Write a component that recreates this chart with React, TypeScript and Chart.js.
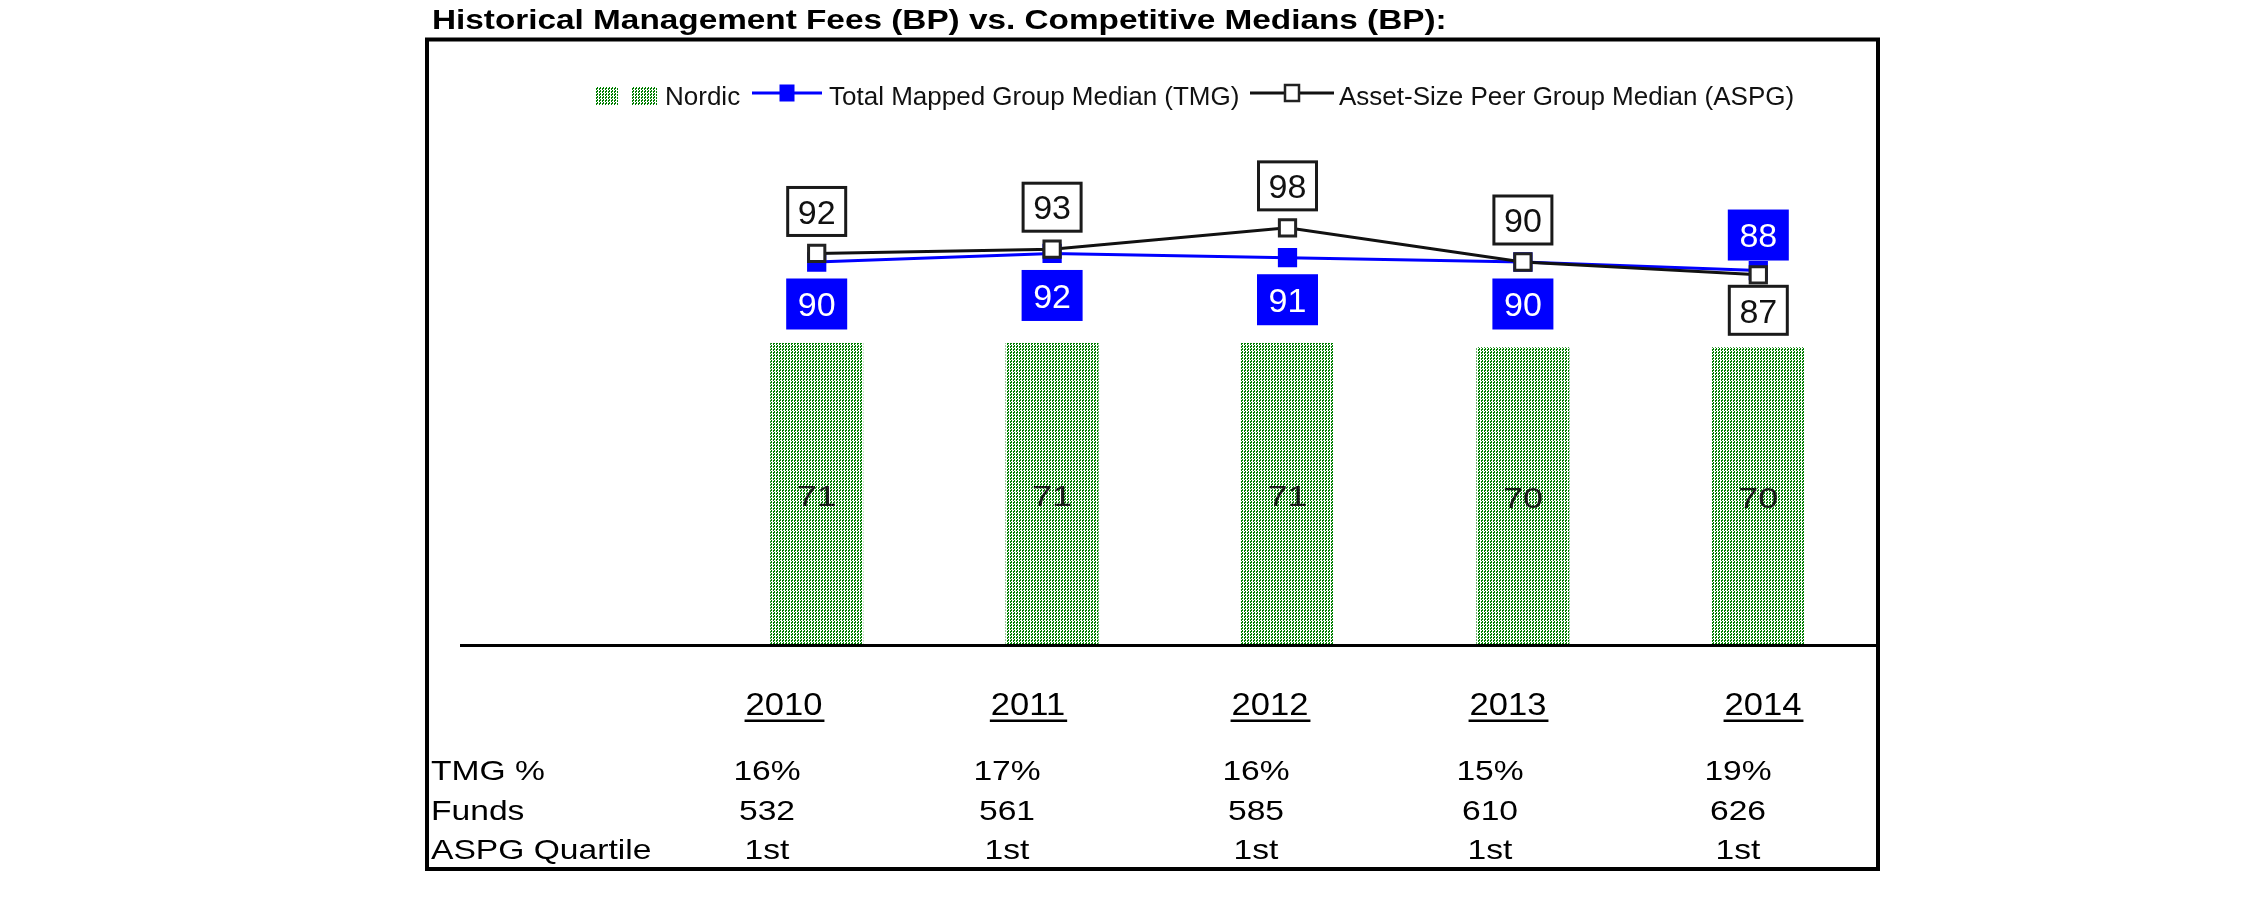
import React, { useEffect, useRef } from 'react';
import { Chart, registerables } from 'chart.js';

Chart.register(...registerables);

// ---------- data ----------
const categories = ['2010', '2011', '2012', '2013', '2014'];
const nordicFees = [71, 71, 71, 70, 70];
const tmgMedian = [90, 92, 91, 90, 88];
const aspgMedian = [92, 93, 98, 90, 87];
const tmgPercent = ['16%', '17%', '16%', '15%', '19%'];
const fundCounts = ['532', '561', '585', '610', '626'];
const aspgQuartile = ['1st', '1st', '1st', '1st', '1st'];
const rowLabels = ['TMG %', 'Funds', 'ASPG Quartile'];
const seriesNames = ['Nordic', 'Total Mapped Group Median (TMG)', 'Asset-Size Peer Group Median (ASPG)'];
const titleText = 'Historical Management Fees (BP) vs. Competitive Medians (BP):';

// ---------- layout / style ----------
const W = 2251;
const H = 898;
const FONT = '"Liberation Sans", Arial, Helvetica, sans-serif';
const BLUE = '#0000ff';
const GREEN = '#007d00';
const INK = '#000000';
const FRAME = { left: 427, top: 39.5, right: 1878, bottom: 869 };
const AXIS_START_X = 460;
const YEAR_COL_X = [784, 1028, 1270, 1508, 1763];
const VALUE_COL_X = [767, 1007, 1256, 1490, 1738];
const ROW_BASELINES = [780, 820, 859];

type TxtOpts = { size: number; bold?: boolean; sx?: number; align?: 'left' | 'center' | 'right'; color?: string };

function drawText(ctx: CanvasRenderingContext2D, s: string, x: number, y: number, o: TxtOpts) {
  const sx = o.sx ?? 1;
  ctx.save();
  ctx.font = `${o.bold ? 'bold ' : ''}${o.size}px ${FONT}`;
  ctx.fillStyle = o.color ?? INK;
  ctx.textAlign = 'left';
  ctx.textBaseline = 'alphabetic';
  const w = ctx.measureText(s).width * sx;
  const x0 = o.align === 'center' ? x - w / 2 : o.align === 'right' ? x - w : x;
  ctx.translate(x0, y);
  ctx.scale(sx, 1);
  ctx.fillText(s, 0, 0);
  ctx.restore();
  return { x0, w };
}

function makePattern(): CanvasPattern | string {
  const tile = document.createElement('canvas');
  tile.width = 3;
  tile.height = 3;
  const t = tile.getContext('2d');
  if (!t) return GREEN;
  t.fillStyle = '#ffffff';
  t.fillRect(0, 0, 3, 3);
  t.fillStyle = GREEN;
  t.fillRect(0, 0, 1, 2);
  t.fillRect(2, 1, 1, 2);
  const main = document.createElement('canvas').getContext('2d');
  const p = main ? main.createPattern(tile, 'repeat') : null;
  return p || GREEN;
}

export default function App() {
  const ref = useRef<HTMLCanvasElement>(null);

  useEffect(() => {
    const canvas = ref.current;
    if (!canvas) return;
    const pattern = makePattern();

    const decor = {
      id: 'decor',
      beforeDraw(chart: any) {
        const ctx: CanvasRenderingContext2D = chart.ctx;
        ctx.save();
        ctx.fillStyle = '#ffffff';
        ctx.fillRect(0, 0, W, H);
        // title
        drawText(ctx, titleText, 432, 29, { size: 28, bold: true, sx: 1.19, color: '#000' });
        // frame
        ctx.lineWidth = 4;
        ctx.strokeStyle = '#000';
        ctx.strokeRect(FRAME.left, FRAME.top, FRAME.right - FRAME.left, FRAME.bottom - FRAME.top);

        // legend
        const ly = 93;
        ctx.fillStyle = pattern as any;
        ctx.fillRect(595, 87, 23, 18);
        ctx.fillRect(631, 87, 26, 18);
        drawText(ctx, seriesNames[0], 665, 105, { size: 26, color: '#111' });

        ctx.strokeStyle = BLUE;
        ctx.lineWidth = 3;
        ctx.beginPath();
        ctx.moveTo(752, ly);
        ctx.lineTo(822, ly);
        ctx.stroke();
        ctx.fillStyle = BLUE;
        ctx.fillRect(787 - 7.5, ly - 8.5, 15, 17);
        drawText(ctx, seriesNames[1], 829, 105, { size: 26, color: '#111' });

        ctx.strokeStyle = '#111';
        ctx.lineWidth = 3;
        ctx.beginPath();
        ctx.moveTo(1250, ly);
        ctx.lineTo(1334, ly);
        ctx.stroke();
        ctx.fillStyle = '#fff';
        ctx.fillRect(1292 - 7, ly - 8, 14, 16);
        ctx.lineWidth = 2.5;
        ctx.strokeStyle = '#222';
        ctx.strokeRect(1292 - 7, ly - 8, 14, 16);
        drawText(ctx, seriesNames[2], 1339, 105, { size: 26, color: '#111' });
        ctx.restore();
      },
      afterDatasetsDraw(chart: any) {
        const ctx: CanvasRenderingContext2D = chart.ctx;
        const yScale = chart.scales.y;
        const zeroY = yScale.getPixelForValue(0);
        ctx.save();
        // category axis line
        ctx.strokeStyle = '#000';
        ctx.lineWidth = 3;
        ctx.beginPath();
        ctx.moveTo(AXIS_START_X, zeroY - 0.5);
        ctx.lineTo(FRAME.right, zeroY - 0.5);
        ctx.stroke();

        const aspgMeta = chart.getDatasetMeta(0);
        const tmgMeta = chart.getDatasetMeta(1);
        const barMeta = chart.getDatasetMeta(2);

        // bar value labels
        barMeta.data.forEach((bar: any, i: number) => {
          const mid = (bar.y + bar.base) / 2;
          drawText(ctx, String(nordicFees[i]), bar.x, mid + 11, { size: 30, sx: 1.2, align: 'center', color: '#1a1a1a' });
        });

        // point labels
        const bw = 61;
        const bh = 51;
        categories.forEach((_, i) => {
          const a = aspgMeta.data[i];
          const t = tmgMeta.data[i];
          const aspgAbove = aspgMedian[i] >= tmgMedian[i];
          const gap = aspgAbove ? 16.5 : 10;
          const aTop = aspgAbove ? a.y - gap - bh : a.y + gap;
          const tTop = aspgAbove ? t.y + gap : t.y - gap - bh;

          // ASPG box
          ctx.fillStyle = '#fff';
          ctx.fillRect(a.x - bw / 2, aTop, bw, bh);
          ctx.strokeStyle = '#1a1a1a';
          ctx.lineWidth = 3;
          ctx.strokeRect(a.x - bw / 2 + 1.5, aTop + 1.5, bw - 3, bh - 3);
          drawText(ctx, String(aspgMedian[i]), a.x, aTop + bh / 2 + 12.2, { size: 34, align: 'center', color: '#111' });

          // TMG box
          ctx.fillStyle = BLUE;
          ctx.fillRect(t.x - bw / 2, tTop, bw, bh);
          drawText(ctx, String(tmgMedian[i]), t.x, tTop + bh / 2 + 12.2, { size: 34, align: 'center', color: '#ffffff' });
        });
        ctx.restore();
      },
      afterDraw(chart: any) {
        const ctx: CanvasRenderingContext2D = chart.ctx;
        ctx.save();
        // years, underlined
        categories.forEach((c, i) => {
          const r = drawText(ctx, c, YEAR_COL_X[i], 715, { size: 32, sx: 1.08, align: 'center', color: '#000' });
          ctx.fillStyle = '#000';
          ctx.fillRect(r.x0 - 1, 719.5, r.w + 3, 2.5);
        });
        // rows
        const rows = [tmgPercent, fundCounts, aspgQuartile];
        rowLabels.forEach((lab, r) => {
          drawText(ctx, lab, 431, ROW_BASELINES[r], { size: 28, sx: 1.2, color: '#000' });
          rows[r].forEach((v, i) => {
            drawText(ctx, v, VALUE_COL_X[i], ROW_BASELINES[r], { size: 28, sx: 1.2, align: 'center', color: '#000' });
          });
        });
        ctx.restore();
      },
    };

    const chart = new Chart(canvas, {
      type: 'bar',
      data: {
        labels: categories,
        datasets: [
          {
            type: 'line',
            label: seriesNames[2],
            data: aspgMedian,
            borderColor: '#111',
            borderWidth: 3,
            tension: 0,
            fill: false,
            pointStyle: 'rect',
            pointRadius: 11.5,
            pointBackgroundColor: '#ffffff',
            pointBorderColor: '#222222',
            pointBorderWidth: 3,
            order: 0,
          },
          {
            type: 'line',
            label: seriesNames[1],
            data: tmgMedian,
            borderColor: BLUE,
            borderWidth: 3,
            tension: 0,
            fill: false,
            pointStyle: 'rect',
            pointRadius: 11.5,
            pointBackgroundColor: BLUE,
            pointBorderColor: BLUE,
            pointBorderWidth: 3,
            order: 1,
          },
          {
            type: 'bar',
            label: seriesNames[0],
            data: nordicFees,
            backgroundColor: pattern as any,
            borderWidth: 0,
            barPercentage: 0.395,
            categoryPercentage: 1,
            order: 2,
          },
        ],
      } as any,
      options: {
        responsive: false,
        animation: false,
        devicePixelRatio: 1,
        events: [],
        layout: { padding: { left: 699, right: W - 1876, top: 134, bottom: H - 646 } },
        scales: {
          x: { type: 'category', display: false, offset: true },
          y: { type: 'linear', display: false, min: 0, max: 120 },
        },
        plugins: {
          legend: { display: false },
          title: { display: false },
          tooltip: { enabled: false },
        },
      },
      plugins: [decor],
    } as any);

    return () => chart.destroy();
  }, []);

  return (
    <div style={{ position: 'absolute', left: 0, top: 0, width: W, height: H, background: '#fff' }}>
      <canvas ref={ref} width={W} height={H} style={{ width: W, height: H, display: 'block' }} />
    </div>
  );
}
